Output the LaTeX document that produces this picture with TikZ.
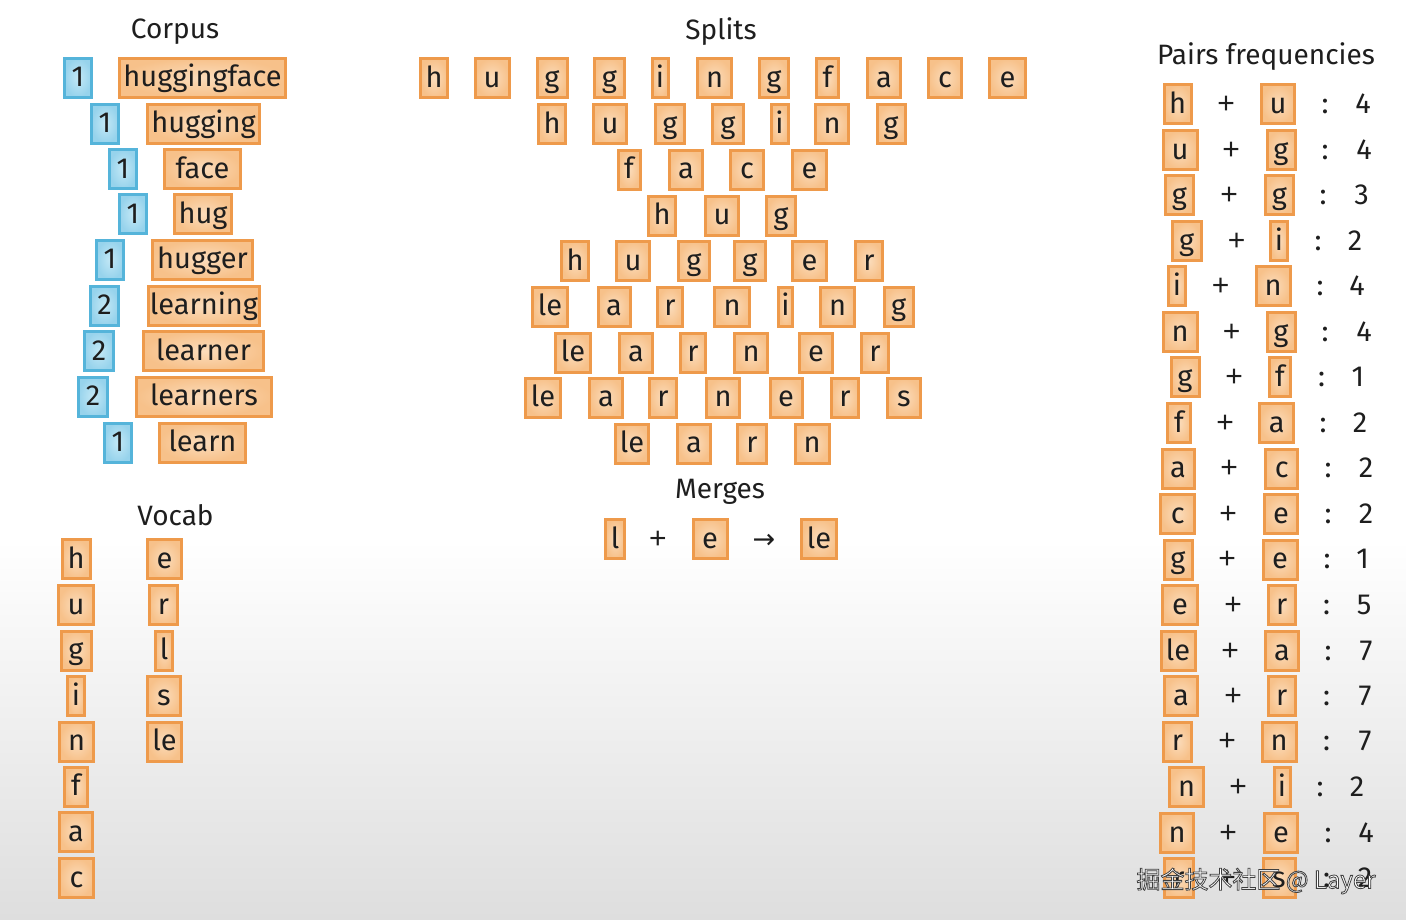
\documentclass[tikz,border=0pt]{standalone}
\usepackage{fontspec}
\setmainfont{Fira Sans}
\newfontfamily\cjkfont{Noto Sans CJK SC}
\newfontfamily\dejavu{DejaVu Sans}
\newfontfamily\plusfont{Liberation Sans}
\definecolor{obd}{HTML}{EE9A4B}
\definecolor{obi}{HTML}{FBDCBB}
\definecolor{obo}{HTML}{F7C18A}
\definecolor{bbd}{HTML}{55B4DA}
\definecolor{bbi}{HTML}{C3E8F6}
\definecolor{bbo}{HTML}{97D3EC}
\definecolor{txt}{HTML}{1E1E1E}
\definecolor{bgbot}{HTML}{DEDEDE}
\tikzset{
 lbl/.style={inner sep=0pt, text=txt, font=\fontsize{29}{34}\selectfont, text height=23pt, text depth=5pt},
 plus/.style={lbl, font=\plusfont\fontsize{30}{34}\selectfont},
 tok/.style={lbl, draw=obd, line width=3pt, inner color=obi, outer color=obo, minimum height=39pt},
 cnt/.style={lbl, draw=bbd, line width=3pt, inner color=bbi, outer color=bbo, minimum height=39pt},
 ttl/.style={inner sep=0pt, text=txt, font=\fontsize{28}{34}\selectfont, anchor=base},
 wmark/.style={inner sep=0pt, text=white, font=\cjkfont\fontsize{24}{28}\selectfont},
}
\begin{document}
\begin{tikzpicture}[x=1pt,y=-1pt]
\useasboundingbox (0,0) rectangle (1406,919);
\fill[white] (0,0) rectangle (1406,540);
\shade[top color=white, bottom color=bgbot] (0,540) rectangle (1406,919);

% ---------- Corpus ----------
\node[ttl] (corpusT) at (175,38) {Corpus};
\foreach \bx/\bw/\n/\wx/\ww/\word/\y [count=\i] in {
 78/30/1/202.5/169/huggingface/77.5,
 105/30/1/203.5/115/hugging/123.5,
 123/30/1/202.5/79/face/169,
 133/30/1/203/60/hug/214,
 110/30/1/202.5/103/hugger/259.5,
 104.5/31/2/204/114/learning/305.5,
 99/32/2/203.5/123/learner/351,
 93/32/2/204/138/learners/396.5,
 118/30/1/202.5/89/learn/442.5}
{
 \node[cnt, minimum width=\bw-3] (cn\i) at (\bx,\y) {\n};
 \node[tok, minimum width=\ww-3] (cw\i) at (\wx,\y) {\word};
}

% ---------- Vocab ----------
\node[ttl] (vocabT) at (175.5,525) {Vocab};
\foreach \x/\w/\t/\y [count=\i] in {
 76/31/h/559, 76/38/u/605, 76/33/g/650.5, 76/20/i/696,
 76.5/37/n/741.5, 76/26/f/786.5, 76/36/a/832, 76.5/37/c/878}
 \node[tok, minimum width=\w-3] (va\i) at (\x,\y) {\t};
\foreach \x/\w/\t/\y [count=\i] in {
 164.5/37/e/559, 163.5/31/r/605, 164/20/l/650.5, 164/36/s/696, 164.5/37/le/741.5}
 \node[tok, minimum width=\w-3] (vb\i) at (\x,\y) {\t};

% ---------- Splits ----------
\node[ttl] (splitsT) at (721,39) {Splits};
\foreach \x/\w/\t [count=\i] in {434/30/h, 492/37/u, 552/33/g, 609.5/33/g, 660/19/i, 714.5/37/n, 774/31.5/g, 827.5/25/f, 884/36/a, 945/36/c, 1007.5/39/e}
 \node[tok, minimum width=\w-3] (sa\i) at (\x,78) {\t};
\foreach \x/\w/\t [count=\i] in {552/30/h, 610/36/u, 670/32/g, 728/34/g, 779.5/20/i, 832/36/n, 891/31/g}
 \node[tok, minimum width=\w-3] (sb\i) at (\x,124) {\t};
\foreach \x/\w/\t [count=\i] in {629/25/f, 686/36/a, 747/36/c, 809.5/37/e}
 \node[tok, minimum width=\w-3] (sc\i) at (\x,169.5) {\t};
\foreach \x/\w/\t [count=\i] in {662/30/h, 722/36/u, 781/32/g}
 \node[tok, minimum width=\w-3] (sd\i) at (\x,215.5) {\t};
\foreach \x/\w/\t [count=\i] in {575/30/h, 633/36/u, 694/34/g, 750/34/g, 809.5/37/e, 869/30/r}
 \node[tok, minimum width=\w-3] (se\i) at (\x,261) {\t};
\foreach \x/\w/\t [count=\i] in {550/37.5/le, 614/35/a, 670/28/r, 732/37.5/n, 785.5/17/i, 837.5/37/n, 898.7/32/g}
 \node[tok, minimum width=\w-3] (sf\i) at (\x,306.5) {\t};
\foreach \x/\w/\t [count=\i] in {573/37.5/le, 636/36/a, 693/28/r, 751/36/n, 816/36/e, 875/30/r}
 \node[tok, minimum width=\w-3] (sg\i) at (\x,352.5) {\t};
\foreach \x/\w/\t [count=\i] in {543/37.5/le, 606/36/a, 663/30/r, 723/36/n, 786/35/e, 845/30/r, 904/36/s}
 \node[tok, minimum width=\w-3] (sh\i) at (\x,397.5) {\t};
\foreach \x/\w/\t [count=\i] in {632/36/le, 694/35.5/a, 752/32/r, 812/37/n}
 \node[tok, minimum width=\w-3] (si\i) at (\x,443.5) {\t};

% ---------- Merges ----------
\node[ttl] (mergesT) at (720,498) {Merges};
\node[tok, minimum width=19] (ml) at (615,539) {l};
\node[plus] (mp) at (658,539) {+};
\node[tok, minimum width=34] (me) at (710,539) {e};
\node[lbl, font=\dejavu\fontsize{27}{30}\selectfont] (ma) at (764,539) {→};
\node[tok, minimum width=35] (mle) at (819,539) {le};

% ---------- Pairs frequencies ----------
\node[ttl] (pairsT) at (1266,64) {Pairs frequencies};
\foreach \y/\lx/\lw/\lt/\px/\rx/\rw/\rt/\cx/\nx/\n [count=\i] in {
 104/1177.7/30/h/1226/1278/36/u/1325/1363/4,
 150/1180/37/u/1231/1281/31/g/1325/1364/4,
 195/1179.5/31/g/1229/1279.5/31/g/1323/1361.7/3,
 241/1186.7/32/g/1236.7/1279/20/i/1318/1355/2,
 286/1177/20/i/1220.7/1273/37/n/1320/1357/4,
 332/1180/37/n/1231.7/1281/31/g/1325/1364/4,
 377/1185/31/g/1234/1280/24/f/1321.7/1358/1,
 423/1179/26/f/1225/1276.7/37/a/1323/1360/2,
 468.5/1178/35/a/1229/1281.7/35/c/1328/1366/2,
 514/1177.7/37/c/1228/1281/36/e/1328/1366/2,
 559.5/1178/31/g/1227/1280/37/e/1327/1362.7/1,
 605/1180/38/e/1233/1281.7/30/r/1326.7/1364/5,
 651/1178/37/le/1230/1282/36/a/1328/1366/7,
 696/1181/36/a/1233/1281.7/30/r/1326.7/1365/7,
 741.7/1177.5/31.5/r/1227/1279/37/n/1326.7/1365/7,
 787/1186.7/37/n/1238/1282/19/i/1320/1357/2,
 833/1177/36/n/1228/1281/36/e/1328/1366/4,
 878/1179/32/r/1227/1279/35/s/1326.7/1365/2}
{
 \node[tok, minimum width=\lw-3] (pl\i) at (\lx,\y) {\lt};
 \node[plus] (pp\i) at (\px,\y) {+};
 \node[tok, minimum width=\rw-3] (pr\i) at (\rx,\y) {\rt};
 \node[lbl] (pc\i) at (\cx,\y) {:};
 \node[lbl] (pn\i) at (\nx,\y) {\n};
}

% ---------- watermark (white text, dark outline) ----------
\node[wmark] (wm) at (1256,881) {\special{pdf:literal direct 2 Tr 0.8 w 0.25 G}掘金技术社区 @ Layer\special{pdf:literal direct 0 Tr}};
\end{tikzpicture}
\end{document}
